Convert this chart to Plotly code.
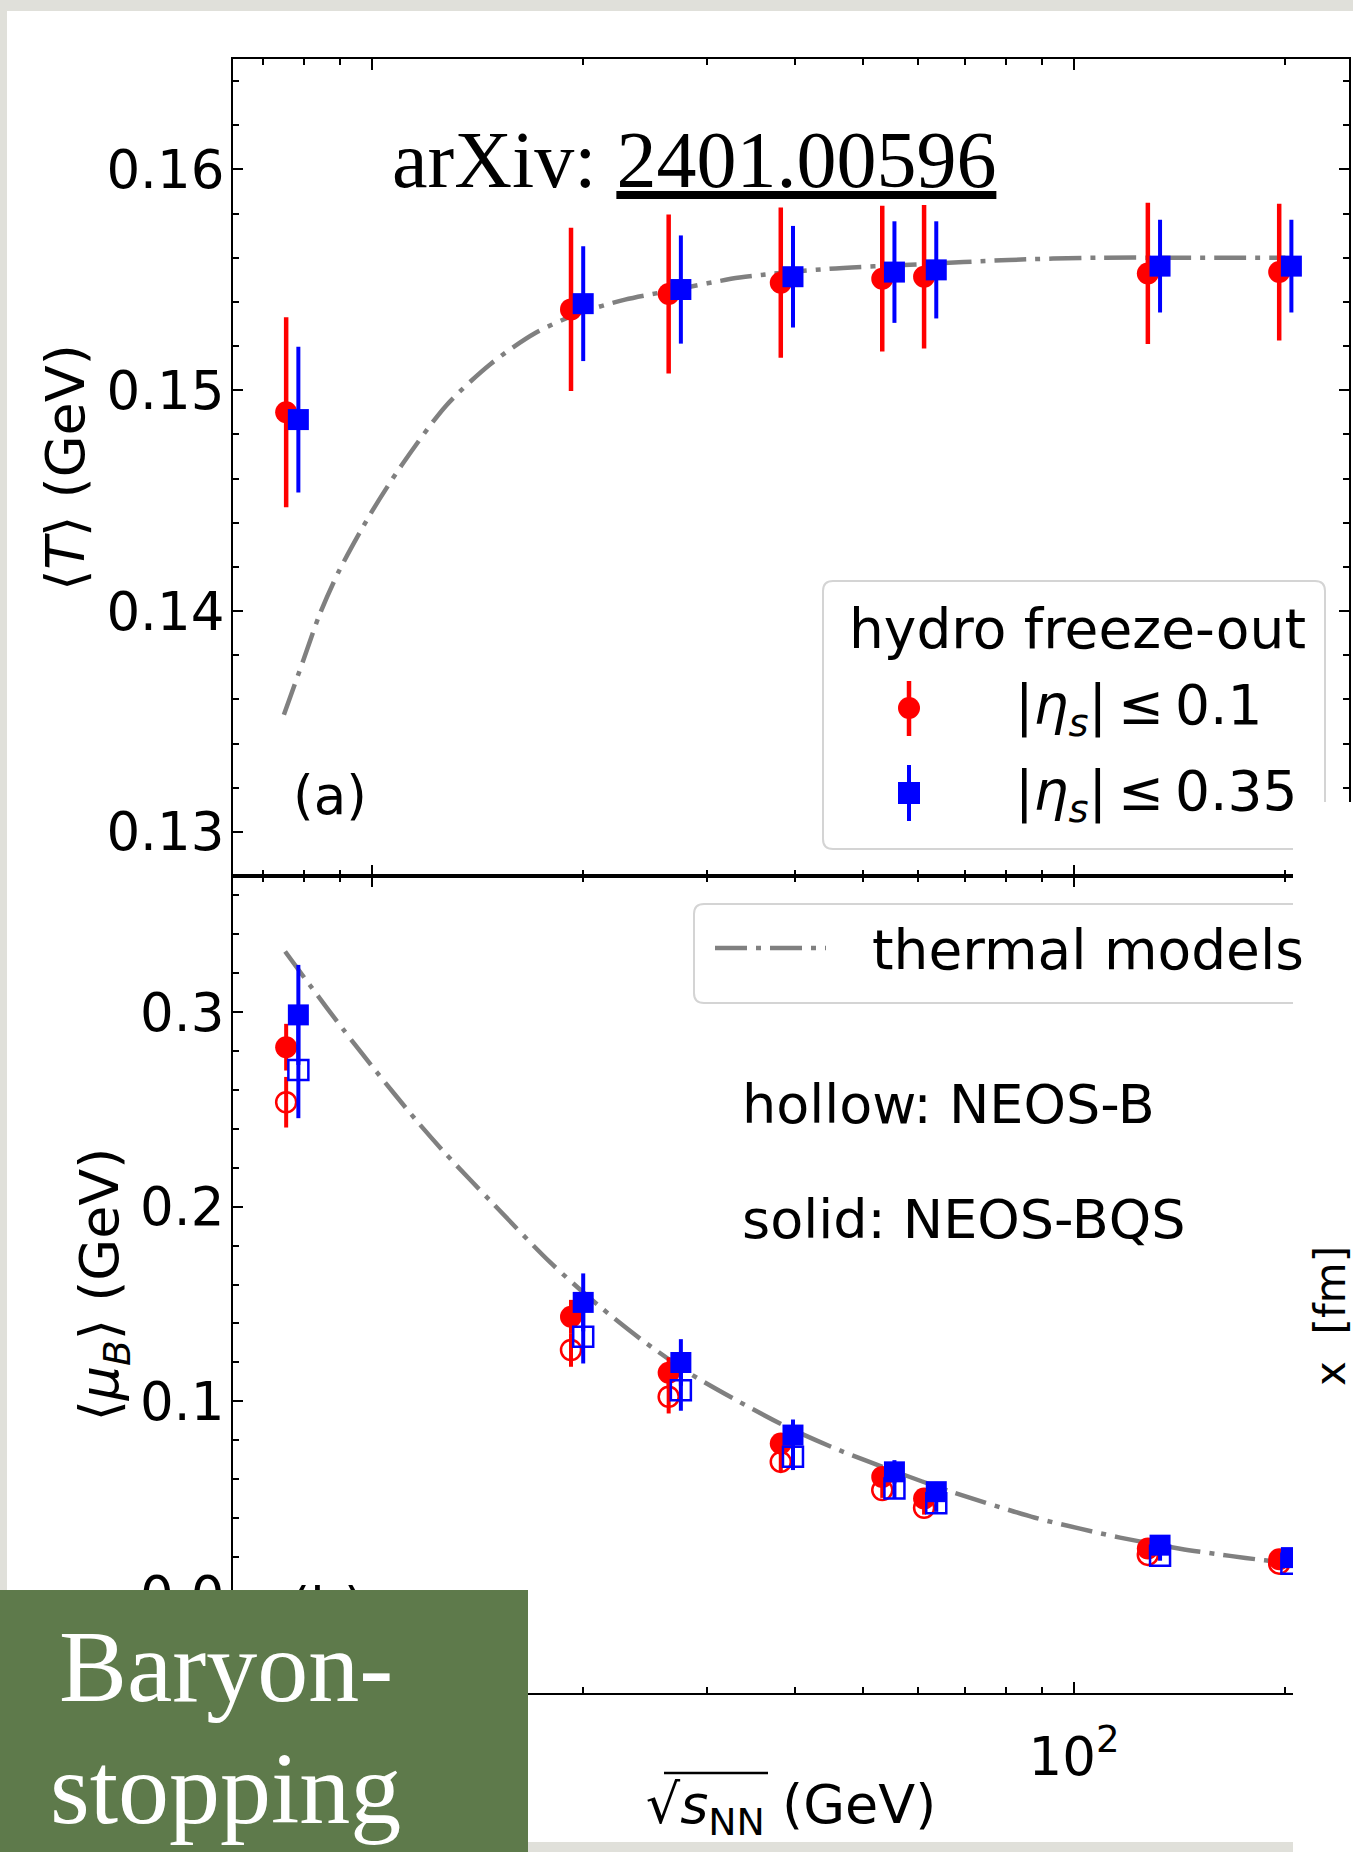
import plotly.graph_objects as go

# ---------------- data ----------------
sqrts = [7.7, 19.6, 27, 39, 54.4, 62.4, 130, 200]

# panel (a): mean freeze-out temperature (GeV)
T_eta01 = [0.1490, 0.15366, 0.15436, 0.15487, 0.15505, 0.15514, 0.15529, 0.15535]
T_eta01_err = [0.0043, 0.0037, 0.0036, 0.0034, 0.0033, 0.00325, 0.0032, 0.0031]
T_eta035 = [0.14867, 0.15392, 0.15456, 0.15514, 0.15535, 0.15545, 0.15562, 0.15562]
T_eta035_err = [0.0033, 0.0026, 0.00245, 0.0023, 0.0023, 0.0022, 0.0021, 0.0021]

# panel (b): mean baryon chemical potential (GeV)
muB_eta01_bqs = [0.2820, 0.1434, 0.1146, 0.0783, 0.0611, 0.0500, 0.0243, 0.0188]
muB_eta01_bqs_err = [0.012, 0.0087, 0.008, 0.005, 0.004, 0.004, 0.002, 0.0015]
muB_eta01_b = [0.2537, 0.1263, 0.1023, 0.0688, 0.0543, 0.0452, 0.0210, 0.0165]
muB_eta01_b_err = [0.013, 0.0086, 0.0086, 0.005, 0.004, 0.0035, 0.002, 0.0015]
muB_eta035_bqs = [0.2986, 0.1508, 0.1199, 0.0826, 0.0637, 0.0535, 0.0260, 0.0196]
muB_eta035_bqs_err = [0.0257, 0.0149, 0.012, 0.008, 0.006, 0.005, 0.003, 0.002]
muB_eta035_b = [0.2703, 0.1331, 0.1057, 0.0714, 0.0551, 0.0476, 0.0205, 0.0165]
muB_eta035_b_err = [0.0248, 0.0137, 0.0106, 0.0068, 0.005, 0.0045, 0.0025, 0.002]

# thermal-model curves
thermal_sqrts_T = [7.49, 7.99, 8.41, 8.97, 9.95, 11.02, 12.75, 14.77, 17.11, 19.78, 22.93,
                   26.54, 33.4, 44.8, 60.1, 80.7, 108, 145, 200]
thermal_T = [0.1353, 0.1378, 0.1398, 0.1418, 0.1444, 0.1466, 0.1493, 0.1512, 0.1526, 0.1535, 0.1541,
             0.1545, 0.1551, 0.1555, 0.1557, 0.1559, 0.1560, 0.1560, 0.1560]
thermal_sqrts_mu = [7.52, 8.16, 9.10, 10.15, 11.58, 12.75, 14.77, 17.93, 20.9, 24.09, 28.38,
                    33.43, 39.38, 46.4, 54.7, 66.6, 88.0, 102, 116.3, 141.6, 166.8, 187, 200]
thermal_mu = [0.3312, 0.3138, 0.2911, 0.2693, 0.2441, 0.2270, 0.2027, 0.1715, 0.1500, 0.1322,
              0.1142, 0.0995, 0.0860, 0.0747, 0.0648, 0.0537, 0.0401, 0.0345, 0.0299, 0.0242,
              0.0205, 0.0182, 0.0172]

x_major = [10, 100]
x_major_text = ["10<sup>1</sup>", "10<sup>2</sup>"]
x_minor = [7, 8, 9, 20, 30, 40, 50, 60, 70, 80, 90, 200]

# ---------------- styling / layout helpers ----------------
W, H = 1353, 1852
def fx(x): return x / W
def fy(y): return 1 - y / H

RED, BLUE, GRAY = "#ff0000", "#0000ff", "#808080"
DASHDOT = "32px,9px,5px,9px"
SANS = "DejaVu Sans"
SERIF = "Liberation Serif"
THIN = "\u2009"
red_x = [s * 0.98 for s in sqrts]   # small horizontal display offsets
blue_x = [s * 1.02 for s in sqrts]

fig = go.Figure()

def err(vals, width, color):
    return dict(type="data", array=vals, visible=True, thickness=width, width=0, color=color)

LINE = dict(color=GRAY, width=4.5, dash=DASHDOT, shape="spline", smoothing=0.8)

# panel (a)
fig.add_trace(go.Scatter(x=thermal_sqrts_T, y=thermal_T, mode="lines", line=LINE,
                         xaxis="x", yaxis="y", showlegend=False, name="thermal models"))
fig.add_trace(go.Scatter(x=red_x, y=T_eta01, mode="markers", error_y=err(T_eta01_err, 4.5, RED),
                         marker=dict(symbol="circle", size=22, color=RED), xaxis="x", yaxis="y", showlegend=False))
fig.add_trace(go.Scatter(x=blue_x, y=T_eta035, mode="markers", error_y=err(T_eta035_err, 4, BLUE),
                         marker=dict(symbol="square", size=21, color=BLUE), xaxis="x", yaxis="y", showlegend=False))

# panel (b)
fig.add_trace(go.Scatter(x=thermal_sqrts_mu, y=thermal_mu, mode="lines", line=LINE,
                         xaxis="x2", yaxis="y2", showlegend=False))
fig.add_trace(go.Scatter(x=red_x, y=muB_eta01_bqs, mode="markers", error_y=err(muB_eta01_bqs_err, 4, RED),
                         marker=dict(symbol="circle", size=22, color=RED), xaxis="x2", yaxis="y2", showlegend=False))
fig.add_trace(go.Scatter(x=red_x, y=muB_eta01_b, mode="markers", error_y=err(muB_eta01_b_err, 4, RED),
                         marker=dict(symbol="circle-open", size=20, color=RED, line=dict(width=2.5)), xaxis="x2", yaxis="y2", showlegend=False))
fig.add_trace(go.Scatter(x=blue_x, y=muB_eta035_bqs, mode="markers", error_y=err(muB_eta035_bqs_err, 4, BLUE),
                         marker=dict(symbol="square", size=21, color=BLUE), xaxis="x2", yaxis="y2", showlegend=False))
fig.add_trace(go.Scatter(x=blue_x, y=muB_eta035_b, mode="markers", error_y=err(muB_eta035_b_err, 4, BLUE),
                         marker=dict(symbol="square-open", size=20, color=BLUE, line=dict(width=2.5)), xaxis="x2", yaxis="y2", showlegend=False))
# "(b)" label (mostly hidden by the green box)
fig.add_trace(go.Scatter(x=[8.63], y=[-0.0085], mode="text", text=["(b)"], textfont=dict(family=SANS, size=53, color="black"),
                         xaxis="x2", yaxis="y2", showlegend=False))

tickfont = dict(family=SANS, size=53, color="black")
common_x = dict(type="log", range=[0.80199, 2.3917], domain=[fx(233), fx(1349)], showline=True, linecolor="black", linewidth=2,
                mirror="ticks", ticks="inside", ticklen=11, tickwidth=2, tickcolor="black", tickmode="array", tickvals=x_major,
                ticktext=x_major_text, showgrid=False, zeroline=False, tickfont=tickfont,
                minor=dict(tickmode="array", tickvals=x_minor, ticks="inside", ticklen=6, tickwidth=2, tickcolor="black", showgrid=False))
common_y = dict(showline=True, linecolor="black", linewidth=2, mirror="ticks", ticks="inside", ticklen=10, tickwidth=2,
                tickcolor="black", showgrid=False, zeroline=False, tickfont=tickfont, ticklabelstandoff=-4, automargin=False,
                title_font=dict(family=SANS, size=54, color="black"))

fig.update_layout(
    width=W, height=H, autosize=False,
    margin=dict(l=0, r=0, t=0, b=0, pad=0),
    paper_bgcolor="#e0e0da", plot_bgcolor="rgba(0,0,0,0)",
    showlegend=False,
    xaxis=dict(common_x, anchor="y", showticklabels=False),
    xaxis2=dict(common_x, anchor="y2", matches="x", showticklabels=True, ticklabelstandoff=16, automargin=False,
                title=dict(text="√<i>s</i><sub>NN</sub> (GeV)", standoff=0,
                           font=dict(family=SANS, size=54, color="black"))),
    yaxis=dict(common_y, anchor="x", domain=[fy(876), fy(59)], range=[0.128, 0.165], tick0=0, dtick=0.01, tickformat=".2f",
               minor=dict(tick0=0, dtick=0.002, ticks="inside", ticklen=6, tickwidth=2, tickcolor="black", showgrid=False),
               title=dict(text="⟨<i>T</i>⟩ (GeV)", standoff=4)),
    yaxis2=dict(common_y, anchor="x2", domain=[fy(1693), fy(876)], range=[-0.05, 0.37], tick0=0, dtick=0.1, tickformat=".1f",
                minor=dict(tick0=0, dtick=0.02, ticks="inside", ticklen=6, tickwidth=2, tickcolor="black", showgrid=False),
                title=dict(text="⟨<i>μ</i><sub><i>B</i></sub>⟩ (GeV)", standoff=4)),
)

def rrect(x0, y0, x1, y1, r):
    pts = [("M", x0 + r, y0), ("L", x1 - r, y0), ("Q", x1, y0, x1, y0 + r), ("L", x1, y1 - r), ("Q", x1, y1, x1 - r, y1),
           ("L", x0 + r, y1), ("Q", x0, y1, x0, y1 - r), ("L", x0, y0 + r), ("Q", x0, y0, x0 + r, y0)]
    s = ""
    for p in pts:
        c = p[0]
        v = p[1:]
        coords = []
        for i in range(0, len(v), 2):
            coords.append(f"{fx(v[i]):.5f},{fy(v[i+1]):.5f}")
        s += c + " " + " ".join(coords) + " "
    return s + "Z"

shapes = []
# white slide area
shapes.append(dict(type="rect", xref="paper", yref="paper", x0=fx(7), x1=1, y0=fy(1842), y1=fy(11),
                   fillcolor="white", line=dict(width=0), layer="below"))
# overline of the x-axis title radicand
shapes.append(dict(type="line", xref="paper", yref="paper", x0=fx(664), x1=fx(768), y0=fy(1773), y1=fy(1773),
                   line=dict(color="black", width=2.5), layer="above"))
# legend (a)
shapes.append(dict(type="path", xref="paper", yref="paper", path=rrect(823, 581, 1325, 849, 10),
                   fillcolor="white", line=dict(color="#d4d4d4", width=2), layer="above"))
shapes.append(dict(type="line", xref="paper", yref="paper", x0=fx(909), x1=fx(909), y0=fy(681), y1=fy(736),
                   line=dict(color=RED, width=4.5), layer="above"))
shapes.append(dict(type="circle", xref="paper", yref="paper", x0=fx(898), x1=fx(920), y0=fy(719), y1=fy(697),
                   fillcolor=RED, line=dict(color=RED, width=0), layer="above"))
shapes.append(dict(type="line", xref="paper", yref="paper", x0=fx(909), x1=fx(909), y0=fy(765), y1=fy(821),
                   line=dict(color=BLUE, width=4), layer="above"))
shapes.append(dict(type="rect", xref="paper", yref="paper", x0=fx(898), x1=fx(920), y0=fy(804), y1=fy(782),
                   fillcolor=BLUE, line=dict(color=BLUE, width=0), layer="above"))
# legend (b)
shapes.append(dict(type="path", xref="paper", yref="paper", path=rrect(694, 904, 1330, 1003, 10),
                   fillcolor="white", line=dict(color="#d4d4d4", width=2), layer="above"))
shapes.append(dict(type="line", xref="paper", yref="paper", x0=fx(715), x1=fx(826), y0=fy(948), y1=fy(948),
                   line=dict(color=GRAY, width=4.5, dash=DASHDOT), layer="above"))
# white patch on the right, green title box bottom-left
shapes.append(dict(type="rect", xref="paper", yref="paper", x0=fx(1293), x1=1, y0=0, y1=fy(802),
                   fillcolor="white", line=dict(width=0), layer="above"))
shapes.append(dict(type="rect", xref="paper", yref="paper", x0=0, x1=fx(528), y0=0, y1=fy(1590),
                   fillcolor="#5e7a4b", line=dict(width=0), layer="above"))
fig.update_layout(shapes=shapes)

def ann(text, x, y, size, family=SANS, color="black", xanchor="left", angle=0):
    return dict(text=text, x=fx(x), y=fy(y), xref="paper", yref="paper", showarrow=False, xanchor=xanchor, yanchor="middle",
                font=dict(family=family, size=size, color=color), textangle=angle)

annotations = [
    ann("arXiv: <u>2401.00596</u>", 390, 160, 80, family=SERIF),
    ann("(a)", 291, 795, 53),
    ann("hydro freeze-out", 847, 629, 55),
    ann("|<i>η</i><sub><i>s</i></sub>|" + THIN + "≤" + THIN + "0.1", 1013, 709, 55),
    ann("|<i>η</i><sub><i>s</i></sub>|" + THIN + "≤" + THIN + "0.35", 1013, 795, 55),
    ann("thermal models", 870, 950, 55),
    ann("hollow: NEOS-B", 740, 1104, 54),
    ann("solid: NEOS-BQS", 740, 1219, 54),
    ann("x  [fm]", 1330, 1316, 42, xanchor="center", angle=-90),
    ann("Baryon-", 57, 1666, 102, family=SERIF, color="white"),
    ann("stopping", 48, 1788, 102, family=SERIF, color="white"),
]
fig.update_layout(annotations=annotations)

fig.write_html("out.html")
